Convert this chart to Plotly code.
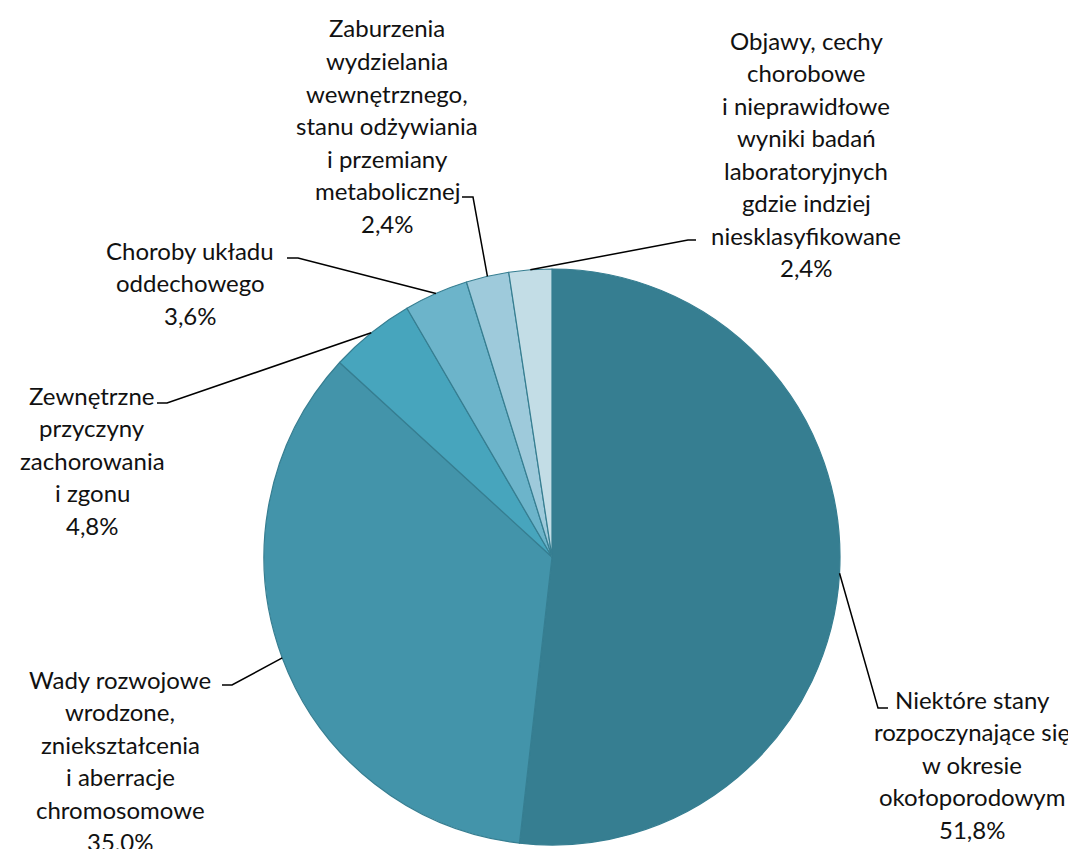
import math
import plotly.graph_objects as go

W, H = 1076, 849

# --- data -------------------------------------------------------------
categories = [
    ["Niektóre stany", "rozpoczynające się", "w okresie", "okołoporodowym"],
    ["Wady rozwojowe", "wrodzone,", "zniekształcenia", "i aberracje", "chromosomowe"],
    ["Zewnętrzne", "przyczyny", "zachorowania", "i zgonu"],
    ["Choroby układu", "oddechowego"],
    ["Zaburzenia", "wydzielania", "wewnętrznego,", "stanu odżywiania",
     "i przemiany", "metabolicznej"],
    ["Objawy, cechy", "chorobowe", "i nieprawidłowe", "wyniki badań",
     "laboratoryjnych", "gdzie indziej", "niesklasyfikowane"],
]
shares = [51.8, 35.0, 4.8, 3.6, 2.4, 2.4]
colors = ["#367E91", "#4394AA", "#47A5BD", "#6CB4CA", "#9ECADB", "#C3DDE6"]

# --- layout helpers (pixels, as seen on the page) ----------------------
OFF = 8  # page body margin around the plot div
cx, cy, r = 552, 557, 288
# label block: centre x, first-line y, elbow point, end of horizontal tick
label_pos = [
    dict(x=972, y=699, elbow=(878, 708), tick=(888, 708)),
    dict(x=120, y=679, elbow=(232, 685), tick=(222, 685)),
    dict(x=92, y=395, elbow=(167, 403), tick=(157, 403)),
    dict(x=190, y=250, elbow=(298, 258), tick=(287, 258)),
    dict(x=387, y=28, elbow=(473, 197), tick=(462, 197)),
    dict(x=806, y=40, elbow=(688, 240), tick=(696, 240)),
]
line_gap = 32.5


def px(x):
    return (x - OFF) / W


def py(y):
    return 1 - (y - OFF) / H


fig = go.Figure(
    go.Pie(
        values=shares,
        labels=[" ".join(c) for c in categories],
        marker=dict(colors=colors, line=dict(color="#367E91", width=1.2)),
        sort=False,
        direction="clockwise",
        rotation=0,
        textinfo="none",
        hoverinfo="label+percent",
        domain=dict(x=[px(cx - r), px(cx + r)], y=[py(cy + r), py(cy - r)]),
        showlegend=False,
    )
)

annotations = []
shapes = []
total = sum(shares)
cum = 0
for lines, v, pos in zip(categories, shares, label_pos):
    mid = (cum + v / 2) / total * 2 * math.pi
    cum += v
    ax = cx + r * math.sin(mid)
    ay = cy - r * math.cos(mid)
    ex, ey = pos["elbow"]
    tx, ty = pos["tick"]
    shapes.append(dict(
        type="path", xref="paper", yref="paper",
        path=f"M {px(ax)},{py(ay)} L {px(ex)},{py(ey)} L {px(tx)},{py(ty)}",
        line=dict(color="black", width=1.5),
    ))
    text_lines = lines + [f"{v:.1f}%".replace(".", ",")]
    for i, t in enumerate(text_lines):
        annotations.append(dict(
            x=px(pos["x"]), y=py(pos["y"] + i * line_gap),
            xref="paper", yref="paper", text=t, showarrow=False,
            xanchor="center", yanchor="middle",
            font=dict(family="Lato, Carlito, sans-serif", size=24, color="#111111"),
        ))

fig.update_layout(
    width=W, height=H,
    margin=dict(l=0, r=0, t=0, b=0),
    paper_bgcolor="white",
    plot_bgcolor="white",
    annotations=annotations,
    shapes=shapes,
)

fig.write_html("out.html")
